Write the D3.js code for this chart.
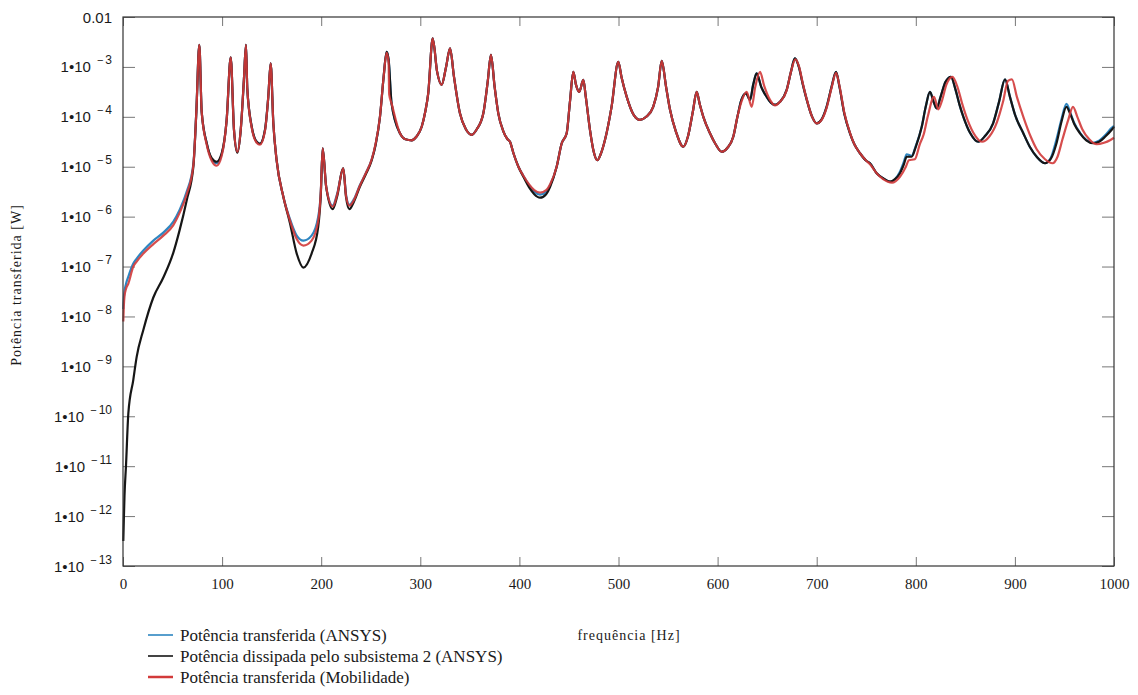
<!DOCTYPE html>
<html>
<head>
<meta charset="utf-8">
<script src="https://cdn.jsdelivr.net/npm/d3@7"></script>
<style>
  html, body { margin: 0; padding: 0; background: #fff; }
  svg { display: block; font-family: "Liberation Serif", "Times New Roman", serif; }
</style>
</head>
<body>
<svg id="chart" width="1138" height="695"></svg>
<script>
// ---- axis ticks ----
const freqTicks = [0, 100, 200, 300, 400, 500, 600, 700, 800, 900, 1000];
const decadeExps = [-2, -3, -4, -5, -6, -7, -8, -9, -10, -11, -12, -13];

// ---- series labels ----
const seriesNames = [
  "Potência transferida (ANSYS)",
  "Potência dissipada pelo subsistema 2 (ANSYS)",
  "Potência transferida (Mobilidade)"
];

// Power values are written as base-10 exponents of the power in W.
// Frequency grid [Hz] shared by both ANSYS results
const freqAnsys = [
  0.3, 0.8, 1.5, 3, 5.4, 10.4, 13.8, 20.5, 30.6, 40.7,
  50.8, 57, 64.3, 71, 74, 77, 79.4, 84.5, 89.5, 94.5,
  99.6, 104.6, 108.7, 112, 115.4, 118.8, 122, 124.1, 125.4, 129.9,
  134.9, 138.2, 143.3, 146.6, 149, 151.7, 155, 161.8, 168.5, 175.3,
  182, 190.3, 197, 199.5, 201.5, 205, 211.6, 216, 222.3, 225,
  228.4, 233, 239, 245, 251, 255, 259.3, 263, 266, 268,
  271, 279.5, 285, 291.3, 296, 301.4, 305, 308, 312.5, 317,
  321.5, 326, 330, 334, 340, 346, 351.9, 357, 363.6, 368,
  371.3, 375, 378.7, 384, 388, 390.5, 394, 399, 404, 410,
  415, 420.8, 427, 431, 437.6, 442.7, 447.7, 451, 454.4, 457,
  460.4, 464.5, 467, 471.2, 475, 478.6, 482, 486.4, 493, 499.8,
  503, 508.3, 515, 521.7, 528, 535, 540, 543.6, 548, 552,
  558, 565.4, 570, 575, 578.9, 582, 585.6, 592.3, 598, 604,
  610, 615.8, 620, 624, 628.7, 632.7, 636, 639.4, 644, 649.5,
  654, 658, 663, 669.7, 674, 678, 682, 686, 690, 695,
  700, 705, 710, 715, 719.5, 723, 728, 733.6, 738, 743.7,
  750, 753.8, 760.5, 767, 774, 779, 784, 788, 790.8, 795.8,
  800, 806, 810, 814.3, 818, 821, 825, 830, 835.5, 840,
  844, 848, 855, 863, 870, 878, 884, 890, 895, 900,
  908.5, 915, 922, 930.4, 936, 942, 947, 952, 956, 960,
  965.7, 972, 979, 985, 991, 997.7, 1000
];

// Potência dissipada pelo subsistema 2 (ANSYS)
const dissipadaExp = [
  -12.5, -12.1, -11.6, -11.0, -9.94, -9.27, -8.81, -8.27, -7.62, -7.22,
  -6.72, -6.28, -5.67, -5.0, -3.9, -2.56, -3.9, -4.53, -4.83, -4.9,
  -4.73, -4.06, -2.81, -4.26, -4.72, -4.26, -3.26, -2.56, -3.43, -4.2,
  -4.5, -4.54, -4.26, -3.6, -2.93, -4.13, -4.87, -5.6, -6.13, -6.74,
  -7.02, -6.74, -6.2, -5.6, -4.63, -5.4, -5.85, -5.6, -5.03, -5.6,
  -5.85, -5.7, -5.4, -5.15, -4.87, -4.55, -4.0, -3.2, -2.7, -2.85,
  -3.73, -4.33, -4.45, -4.47, -4.4, -4.2, -3.9, -3.53, -2.43, -3.1,
  -3.36, -3.0, -2.63, -3.2, -3.93, -4.25, -4.36, -4.25, -3.93, -3.3,
  -2.76, -3.4, -3.93, -4.3, -4.45, -4.5, -4.73, -5.0, -5.2, -5.42,
  -5.55, -5.62, -5.55, -5.4, -5.0, -4.53, -4.33, -3.7, -3.1, -3.35,
  -3.5, -3.26, -3.6, -4.26, -4.7, -4.87, -4.75, -4.46, -3.8, -2.9,
  -3.2, -3.6, -3.95, -4.06, -4.0, -3.8, -3.4, -2.88, -3.4, -3.86,
  -4.3, -4.6, -4.4, -3.9, -3.5, -3.75, -4.0, -4.33, -4.55, -4.7,
  -4.62, -4.4, -4.0, -3.66, -3.53, -3.66, -3.35, -3.13, -3.4, -3.6,
  -3.72, -3.76, -3.7, -3.46, -3.1, -2.83, -3.0, -3.35, -3.66, -3.98,
  -4.13, -4.05, -3.8, -3.4, -3.1, -3.4, -3.95, -4.33, -4.55, -4.73,
  -4.88, -4.93, -5.13, -5.23, -5.3, -5.25, -5.13, -4.95, -4.8, -4.8,
  -4.6, -4.2, -3.8, -3.5, -3.7, -3.83, -3.6, -3.3, -3.2, -3.45,
  -3.75, -4.0, -4.33, -4.5, -4.38, -4.13, -3.7, -3.25, -3.6, -3.95,
  -4.33, -4.6, -4.8, -4.93, -4.85, -4.53, -4.1, -3.8, -3.95, -4.15,
  -4.33, -4.47, -4.53, -4.5, -4.4, -4.26, -4.2
];

// Potência transferida (ANSYS)
const transferidaAnsysExp = [
  -7.85, -7.65, -7.5, -7.35, -7.2, -6.94, -6.84, -6.68, -6.48, -6.32,
  -6.1, -5.87, -5.5, -4.95, -3.9, -2.56, -3.9, -4.53, -4.85, -4.93,
  -4.75, -4.06, -2.81, -4.26, -4.7, -4.26, -3.26, -2.56, -3.43, -4.2,
  -4.5, -4.54, -4.26, -3.6, -2.93, -4.13, -4.87, -5.6, -6.05, -6.38,
  -6.48, -6.38, -6.0, -5.55, -4.63, -5.4, -5.78, -5.55, -5.03, -5.55,
  -5.76, -5.65, -5.37, -5.13, -4.85, -4.55, -4.0, -3.2, -2.7, -2.85,
  -3.73, -4.33, -4.45, -4.47, -4.4, -4.2, -3.9, -3.53, -2.43, -3.1,
  -3.36, -3.0, -2.63, -3.2, -3.93, -4.25, -4.36, -4.25, -3.93, -3.3,
  -2.76, -3.4, -3.93, -4.3, -4.45, -4.5, -4.73, -5.0, -5.18, -5.38,
  -5.5, -5.56, -5.5, -5.37, -5.0, -4.53, -4.33, -3.7, -3.1, -3.35,
  -3.5, -3.26, -3.6, -4.26, -4.7, -4.87, -4.75, -4.46, -3.8, -2.9,
  -3.2, -3.6, -3.95, -4.06, -4.0, -3.8, -3.4, -2.88, -3.4, -3.86,
  -4.3, -4.6, -4.4, -3.9, -3.5, -3.75, -4.0, -4.33, -4.55, -4.7,
  -4.62, -4.4, -4.0, -3.66, -3.53, -3.66, -3.35, -3.13, -3.4, -3.6,
  -3.72, -3.76, -3.7, -3.46, -3.1, -2.83, -3.0, -3.35, -3.66, -3.98,
  -4.13, -4.05, -3.8, -3.4, -3.1, -3.4, -3.95, -4.33, -4.55, -4.73,
  -4.88, -4.93, -5.13, -5.23, -5.3, -5.25, -5.1, -4.9, -4.75, -4.78,
  -4.58, -4.2, -3.8, -3.5, -3.7, -3.83, -3.6, -3.3, -3.2, -3.45,
  -3.75, -4.0, -4.33, -4.5, -4.38, -4.13, -3.7, -3.25, -3.6, -3.95,
  -4.33, -4.6, -4.8, -4.93, -4.83, -4.45, -4.05, -3.74, -3.92, -4.13,
  -4.32, -4.46, -4.52, -4.48, -4.37, -4.22, -4.18
];

// Frequency grid [Hz] of the mobility model
const freqMob = [
  0.3, 0.8, 1.5, 3, 5.4, 10.4, 13.8, 20.5, 30.6, 40.7,
  50.8, 57, 64.3, 71, 74, 77, 79.4, 84.5, 89.5, 94.5,
  99.6, 104.6, 108.7, 112, 115.4, 118.8, 122, 124.1, 125.4, 129.9,
  134.9, 138.2, 143.3, 146.6, 149, 151.7, 155, 161.8, 168.5, 175.3,
  182, 190.3, 197, 199.5, 201.5, 205, 211.6, 216, 222.3, 225,
  228.4, 233, 239, 245, 251, 255, 259.3, 263, 266, 268,
  268.6, 271, 279.5, 285, 291.3, 296, 301.4, 305, 308, 312.5,
  317, 321.5, 326, 330, 334, 340, 346, 351.9, 357, 363.6,
  368, 371.3, 375, 378.7, 384, 388, 390.5, 394, 399, 404,
  410, 415, 420.8, 427, 431, 437.6, 442.7, 447.7, 451, 454.4,
  457, 460.4, 464.5, 467, 471.2, 475, 478.6, 482, 486.4, 493,
  499.8, 503, 508.3, 515, 521.7, 528, 535, 540, 543.6, 548,
  552, 558, 565.4, 570, 575, 578.9, 582, 585.6, 592.3, 598,
  604, 610, 615.8, 620, 624, 629.3, 634.4, 638, 642.8, 647,
  652.9, 658, 663, 669.7, 674, 678.5, 682, 686, 690, 695,
  700, 705, 710, 715, 719.5, 723, 728, 733.6, 738, 743.7,
  750, 753.8, 760.5, 767, 776, 784, 790, 793, 799, 804,
  808, 812, 818.4, 822.6, 826, 831, 837, 842, 847, 852,
  860, 867, 874, 882, 888, 893, 897, 902, 908.5, 916,
  922, 930.4, 938, 943, 948, 954, 958.6, 963, 968, 975,
  982.5, 990, 996, 1000
];

// Potência transferida (Mobilidade)
const transferidaMobExp = [
  -8.1, -7.8, -7.6, -7.45, -7.34, -7.0, -6.9, -6.74, -6.55, -6.38,
  -6.17, -5.93, -5.55, -4.97, -3.9, -2.56, -3.9, -4.56, -4.88, -4.98,
  -4.78, -4.06, -2.81, -4.26, -4.7, -4.26, -3.26, -2.56, -3.43, -4.22,
  -4.52, -4.56, -4.28, -3.6, -2.93, -4.13, -4.87, -5.6, -6.08, -6.45,
  -6.58, -6.48, -6.08, -5.55, -4.63, -5.4, -5.8, -5.57, -5.03, -5.58,
  -5.78, -5.67, -5.38, -5.13, -4.85, -4.53, -4.0, -3.2, -2.72, -2.9,
  -3.55, -3.73, -4.33, -4.45, -4.47, -4.4, -4.2, -3.9, -3.53, -2.43,
  -3.1, -3.36, -3.0, -2.63, -3.2, -3.93, -4.25, -4.36, -4.25, -3.93,
  -3.3, -2.76, -3.4, -3.93, -4.3, -4.45, -4.5, -4.73, -5.0, -5.18,
  -5.36, -5.47, -5.52, -5.47, -5.35, -5.0, -4.53, -4.33, -3.7, -3.1,
  -3.35, -3.5, -3.26, -3.6, -4.26, -4.7, -4.87, -4.75, -4.46, -3.8,
  -2.9, -3.2, -3.6, -3.95, -4.06, -4.0, -3.8, -3.4, -2.88, -3.4,
  -3.86, -4.3, -4.6, -4.4, -3.9, -3.5, -3.75, -4.0, -4.33, -4.55,
  -4.7, -4.62, -4.4, -4.0, -3.7, -3.5, -3.8, -3.4, -3.1, -3.38,
  -3.66, -3.77, -3.7, -3.47, -3.1, -2.85, -2.98, -3.33, -3.65, -3.98,
  -4.13, -4.06, -3.82, -3.42, -3.12, -3.38, -3.93, -4.32, -4.55, -4.73,
  -4.88, -4.95, -5.13, -5.25, -5.32, -5.2, -5.0, -4.87, -4.85, -4.55,
  -4.35, -4.0, -3.6, -3.85, -3.7, -3.35, -3.2, -3.4, -3.75, -4.05,
  -4.38, -4.5, -4.4, -4.1, -3.7, -3.28, -3.25, -3.6, -4.0, -4.4,
  -4.65, -4.85, -4.93, -4.8, -4.45, -4.05, -3.8, -4.0, -4.25, -4.45,
  -4.55, -4.52, -4.47, -4.42
];

const seriesColors = ["#2e86c1", "#161616", "#d23a3a"];

// ---- layout ----
const svg = d3.select("#chart");
const plot = { left: 123, right: 1114, top: 17, bottom: 566 };

const x = d3.scaleLinear().domain([0, 1000]).range([plot.left, plot.right]);
const y = d3.scaleLog().domain([1e-13, 1e-2]).range([plot.bottom, plot.top]);

const toPoints = (freqs, exps) => d3.zip(freqs, exps).map(([f, e]) => ({ f, p: Math.pow(10, e) }));

const series = [
  { name: seriesNames[0], color: seriesColors[0], pts: toPoints(freqAnsys, transferidaAnsysExp) },
  { name: seriesNames[1], color: seriesColors[1], pts: toPoints(freqAnsys, dissipadaExp) },
  { name: seriesNames[2], color: seriesColors[2], pts: toPoints(freqMob, transferidaMobExp) }
];

const tickValuesY = decadeExps.map(e => Math.pow(10, e));

// ---- axes (ticks point inward) ----
const tickColor = "#777";

const gBottom = svg.append("g")
  .attr("transform", `translate(0,${plot.bottom})`)
  .call(d3.axisBottom(x).tickValues(freqTicks).tickSizeInner(-9).tickSizeOuter(0).tickPadding(12).tickFormat(d3.format("d")));
gBottom.select(".domain").remove();
gBottom.selectAll("line").attr("stroke", tickColor);
gBottom.selectAll("text").attr("font-size", "15px").attr("fill", "#1a1a1a")
  .attr("font-family", "'Liberation Serif', 'Times New Roman', serif");

const gTop = svg.append("g")
  .attr("transform", `translate(0,${plot.top})`)
  .call(d3.axisTop(x).tickValues(freqTicks).tickSizeInner(-9).tickSizeOuter(0).tickFormat(""));
gTop.select(".domain").remove();
gTop.selectAll("line").attr("stroke", tickColor);

const gRight = svg.append("g")
  .attr("transform", `translate(${plot.right},0)`)
  .call(d3.axisRight(y).tickValues(tickValuesY).tickSizeInner(-12).tickSizeOuter(0).tickFormat(""));
gRight.select(".domain").remove();
gRight.selectAll("line").attr("stroke", tickColor);

const gLeft = svg.append("g")
  .attr("transform", `translate(${plot.left},0)`)
  .call(d3.axisLeft(y).tickValues(tickValuesY).tickSizeInner(-12).tickSizeOuter(0).tickFormat(""));
gLeft.select(".domain").remove();
gLeft.selectAll("line").attr("stroke", tickColor);

// decade labels: "0.01" and 1•10 with a raised exponent
gLeft.selectAll(".tick").each(function (d, i) {
  const e = decadeExps[i];
  const t = d3.select(this).append("text")
    .attr("x", -11).attr("y", 5)
    .attr("text-anchor", "end")
    .attr("fill", "#1a1a1a")
    .attr("font-size", "15px");
  if (e === -2) {
    t.text("0.01");
  } else {
    t.append("tspan").text("1•10");
    t.append("tspan").attr("dx", 6).attr("dy", -8).attr("font-size", "11px").text("−");
    t.append("tspan").attr("dx", 2).attr("font-size", "12px").text(String(-e));
  }
});

// ---- curves ----
const line = d3.line().x(d => x(d.f)).y(d => y(d.p)).curve(d3.curveMonotoneX);

svg.append("g")
  .selectAll("path")
  .data(series)
  .join("path")
  .attr("d", d => line(d.pts))
  .attr("fill", "none")
  .attr("stroke", d => d.color)
  .attr("stroke-width", 2.2)
  .attr("stroke-linejoin", "round")
  .attr("stroke-opacity", (d, i) => i === 2 ? 0.9 : 1);

// ---- frame ----
svg.append("rect")
  .attr("x", plot.left).attr("y", plot.top)
  .attr("width", plot.right - plot.left).attr("height", plot.bottom - plot.top)
  .attr("fill", "none").attr("stroke", "#333").attr("stroke-width", 1.2);

// ---- axis titles ----
svg.append("text")
  .attr("transform", `translate(21,${285}) rotate(-90)`)
  .attr("text-anchor", "middle")
  .attr("font-size", "14px")
  .attr("fill", "#1a1a1a")
  .attr("letter-spacing", "1px")
  .text("Potência transferida [W]");

svg.append("text")
  .attr("x", 629).attr("y", 640)
  .attr("text-anchor", "middle")
  .attr("font-size", "14px")
  .attr("fill", "#1a1a1a")
  .attr("letter-spacing", "1px")
  .text("frequência [Hz]");

// ---- legend ----
const legend = svg.append("g").attr("transform", "translate(148,635)");
const rows = legend.selectAll("g").data(series).join("g")
  .attr("transform", (d, i) => `translate(0,${i * 21})`);
rows.append("line")
  .attr("x1", 0).attr("x2", 25).attr("y1", 0).attr("y2", 0)
  .attr("stroke", d => d.color).attr("stroke-width", (d, i) => i === 2 ? 2.5 : 1.6);
rows.append("text")
  .attr("x", 32).attr("y", 6)
  .attr("font-size", "17px")
  .attr("fill", "#1a1a1a")
  .text(d => d.name);
</script>
</body>
</html>
